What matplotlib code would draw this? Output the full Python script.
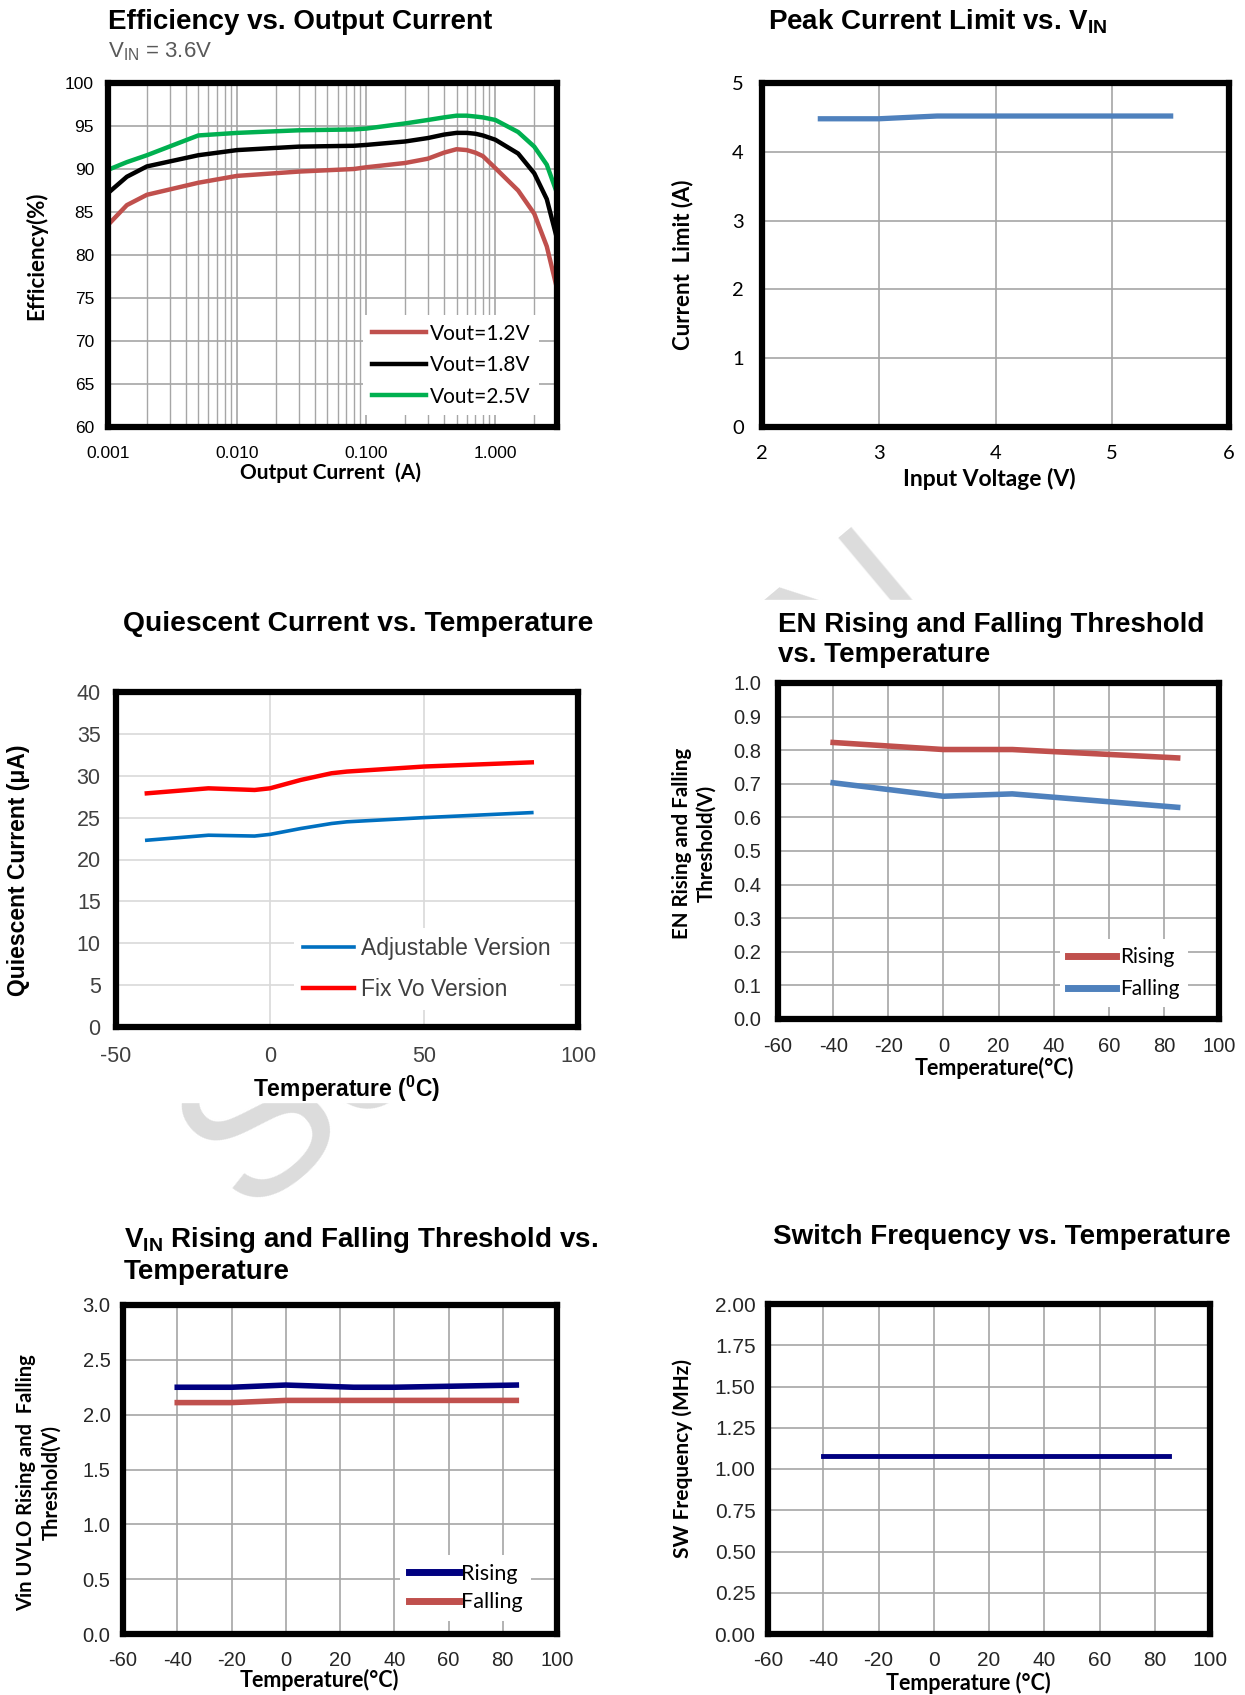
import numpy as np
import matplotlib
matplotlib.use('Agg')
import matplotlib.pyplot as plt
from matplotlib.patches import Rectangle
from matplotlib.ticker import LogLocator, NullFormatter

plt.rcParams['font.family'] = ['Liberation Sans', 'DejaVu Sans']
plt.rcParams['axes.unicode_minus'] = False
plt.rcParams['mathtext.fontset'] = 'custom'
plt.rcParams['mathtext.rm'] = 'Liberation Sans'
plt.rcParams['mathtext.bf'] = 'Liberation Sans:bold'

# ---- data ----
eff_iout = [0.001, 0.0014, 0.002, 0.005, 0.01, 0.03, 0.08, 0.1, 0.2, 0.3, 0.4, 0.5, 0.6, 0.7,
            0.8, 1.0, 1.5, 2.0, 2.5, 3.0]
eff_12 = [83.5, 85.8, 87.0, 88.4, 89.2, 89.7, 90.0, 90.2, 90.7, 91.2, 91.9, 92.3, 92.2, 91.9,
          91.5, 90.1, 87.5, 84.8, 81.0, 76.1]
eff_18 = [87.2, 89.1, 90.3, 91.6, 92.2, 92.6, 92.7, 92.8, 93.2, 93.6, 94.0, 94.2, 94.2, 94.1,
          93.9, 93.4, 91.8, 89.5, 86.5, 81.9]
eff_25 = [89.9, 90.8, 91.6, 93.9, 94.2, 94.5, 94.6, 94.7, 95.3, 95.7, 96.0, 96.2, 96.2, 96.1,
          96.0, 95.7, 94.3, 92.6, 90.5, 87.2]
eff_labels = ['Vout=1.2V', 'Vout=1.8V', 'Vout=2.5V']
eff_xticks = [0.001, 0.01, 0.1, 1.0]
eff_xticklabels = ['0.001', '0.010', '0.100', '1.000']

vin = [2.5, 3.0, 3.5, 4.0, 4.5, 5.0, 5.5]
ilim = [4.48, 4.48, 4.52, 4.52, 4.52, 4.52, 4.52]

iq_temp = [-40, -20, -5, 0, 10, 20, 25, 50, 85]
iq_adj = [22.3, 22.9, 22.8, 23.0, 23.7, 24.3, 24.5, 25.0, 25.6]
iq_fix = [27.9, 28.5, 28.3, 28.5, 29.5, 30.3, 30.5, 31.1, 31.6]

en_temp = [-40, 0, 25, 85]
en_rise = [0.823, 0.802, 0.802, 0.777]
en_fall = [0.703, 0.663, 0.670, 0.630]

uvlo_temp = [-40, -20, 0, 25, 40, 85]
uvlo_rise = [2.25, 2.25, 2.27, 2.25, 2.25, 2.27]
uvlo_fall = [2.11, 2.11, 2.13, 2.13, 2.13, 2.13]

fsw_temp = [-40, 0, 25, 85]
fsw = [1.08, 1.08, 1.08, 1.08]

# ---- layout helpers (pixel coords, origin top-left) ----
W, H = 1245, 1695
fig = plt.figure(figsize=(W / 100, H / 100), dpi=100)


def box(l, t, r, b):
    return [l / W, 1 - b / H, (r - l) / W, (b - t) / H]


def ftext(x, y, s, **kw):
    kw.setdefault('va', 'center')
    return fig.text(x / W, 1 - y / H, s, **kw)


def frame(ax, gridcolor='#a6a6a6'):
    for sp in ax.spines.values():
        sp.set_linewidth(4.5)
        sp.set_color('black')
    ax.tick_params(length=0)
    ax.grid(True, color=gridcolor, lw=1.2)
    ax.set_axisbelow(True)


def legend(ax, anchor, size, family, spacing, hl=2.3, pad=0.1):
    return ax.legend(loc='lower right', bbox_to_anchor=anchor, frameon=True, framealpha=1,
                     edgecolor='none', fancybox=False, handlelength=hl, handletextpad=pad,
                     borderaxespad=0, prop={'family': family, 'size': size},
                     labelspacing=spacing)


# watermark, only visible between the chart pictures
ftext(565, 875, 'SemiGEN', fontsize=150, color='#dcdcdc', rotation=40,
      ha='center', zorder=-2)
for l, t, r, b in [(0, 0, 640, 492), (640, 0, 1245, 492), (0, 592, 640, 1102),
                   (640, 600, 1245, 1102), (0, 1216, 640, 1695), (640, 1216, 1245, 1695)]:
    fig.patches.append(Rectangle((l / W, 1 - b / H), (r - l) / W, (b - t) / H,
                                 transform=fig.transFigure, color='white', zorder=-1))

lato = ['Lato', 'DejaVu Sans']
arial = ['Liberation Sans', 'DejaVu Sans']
TS = 20  # title size

# ---- 1: efficiency ----
ax1 = fig.add_axes(box(108, 83, 557, 427))
ax1.plot(eff_iout, eff_12, color='#c0504d', lw=3.2, label=eff_labels[0])
ax1.plot(eff_iout, eff_18, color='black', lw=3.2, label=eff_labels[1])
ax1.plot(eff_iout, eff_25, color='#00b050', lw=3.2, label=eff_labels[2])
ax1.set_xscale('log')
ax1.set_xlim(0.001, 3)
ax1.set_ylim(60, 100)
ax1.set_yticks(range(60, 101, 5))
ax1.set_xticks(eff_xticks, eff_xticklabels)
ax1.xaxis.set_minor_locator(LogLocator(subs=range(2, 10)))
ax1.xaxis.set_minor_formatter(NullFormatter())
frame(ax1)
ax1.grid(True, which='minor', axis='x', color='#a6a6a6', lw=1.0)
ax1.tick_params(which='both', length=0, labelsize=12.5)
ax1.tick_params(axis='x', pad=14)
ax1.tick_params(axis='y', pad=10)
legend(ax1, (0.96, 0.035), 15, lato, 0.55, hl=2.6, pad=0.2)
ftext(108, 22, 'Efficiency vs. Output Current', fontsize=TS, fontweight='bold')
ftext(108, 52, r'V$_{\mathrm{IN}}$ = 3.6V', fontsize=16, color='#595959')
ftext(36, 256, 'Efficiency(%)', fontsize=16, fontweight='bold', rotation=90,
      ha='center', family=lato)
ftext(330, 473, 'Output Current  (A)', fontsize=15, fontweight='bold', ha='center', family=lato)

# ---- 2: peak current limit ----
ax2 = fig.add_axes(box(762, 83, 1229, 427))
ax2.plot(vin, ilim, color='#4f81bd', lw=3.8)
ax2.set_xlim(2, 6)
ax2.set_ylim(0, 5)
ax2.set_xticks(range(2, 7))
ax2.set_yticks(range(0, 6))
frame(ax2)
ax2.tick_params(labelsize=14.5, pad=13)
for lab in ax2.get_xticklabels() + ax2.get_yticklabels():
    lab.set_family(lato)
ftext(768, 22, r'Peak Current Limit vs. V$_\mathbf{IN}$', fontsize=TS, fontweight='bold')
ftext(683, 265, 'Current  Limit (A)', fontsize=16, fontweight='bold', rotation=90,
      ha='center', family=lato)
ftext(989, 479, 'Input Voltage (V)', fontsize=16.5, fontweight='bold', ha='center', family=lato)

# ---- 3: quiescent current ----
ax3 = fig.add_axes(box(116, 692, 578, 1027))
ax3.plot(iq_temp, iq_adj, color='#0070c0', lw=2.6, label='Adjustable Version')
ax3.plot(iq_temp, iq_fix, color='#ff0000', lw=3.2, label='Fix Vo Version')
ax3.set_xlim(-50, 100)
ax3.set_ylim(0, 40)
ax3.set_xticks([-50, 0, 50, 100])
ax3.set_yticks(range(0, 41, 5))
frame(ax3, gridcolor='#d9d9d9')
ax3.tick_params(labelsize=15.5, labelcolor='#404040')
ax3.tick_params(axis='x', pad=14)
ax3.tick_params(axis='y', pad=11)
leg3 = legend(ax3, (0.96, 0.05), 16.5, arial, 0.8, hl=2.2, pad=0.3)
for t in leg3.get_texts():
    t.set_color('#404040')
ftext(358, 624, 'Quiescent Current vs. Temperature', fontsize=20.3, fontweight='bold', ha='center')
ftext(19, 870, 'Quiescent Current (μA)', fontsize=16.5, fontweight='bold', rotation=90, ha='center')
ftext(347, 1089, r'Temperature ($^\mathbf{0}$C)', fontsize=16.5, fontweight='bold', ha='center')

# ---- 4: EN threshold ----
ax4 = fig.add_axes(box(778, 683, 1219, 1019))
ax4.plot(en_temp, en_rise, color='#c0504d', lw=4, label='Rising')
ax4.plot(en_temp, en_fall, color='#4f81bd', lw=4, label='Falling')
ax4.set_xlim(-60, 100)
ax4.set_ylim(0, 1)
ax4.set_xticks(range(-60, 101, 20))
ax4.set_yticks(np.arange(0, 1.01, 0.1))
ax4.set_yticklabels([f'{v:.1f}' for v in np.arange(0, 1.01, 0.1)])
frame(ax4)
ax4.tick_params(labelsize=14.5, labelcolor='#262626')
ax4.tick_params(axis='x', pad=13)
ax4.tick_params(axis='y', pad=12)
leg4 = legend(ax4, (0.93, 0.035), 15, lato, 0.55, hl=2.3, pad=0.2)
for ln in leg4.get_lines():
    ln.set_linewidth(5)
ftext(778, 640, 'EN Rising and Falling Threshold\nvs. Temperature', fontsize=TS,
      fontweight='bold', linespacing=1.18)
ftext(694, 843, 'EN Rising and Falling\nThreshold(V)', fontsize=14.8, fontweight='bold',
      rotation=90, ha='center', family=lato, linespacing=1.25)
ftext(994, 1068, 'Temperature(°C)', fontsize=15.5, fontweight='bold', ha='center', family=lato)

# ---- 5: VIN UVLO threshold ----
ax5 = fig.add_axes(box(123, 1305, 557, 1634))
ax5.plot(uvlo_temp, uvlo_rise, color='#000080', lw=4, label='Rising')
ax5.plot(uvlo_temp, uvlo_fall, color='#c0504d', lw=4, label='Falling')
ax5.set_xlim(-60, 100)
ax5.set_ylim(0, 3)
ax5.set_xticks(range(-60, 101, 20))
ax5.set_yticks(np.arange(0, 3.01, 0.5))
ax5.set_yticklabels([f'{v:.1f}' for v in np.arange(0, 3.01, 0.5)])
frame(ax5)
ax5.tick_params(labelsize=14.5, labelcolor='#262626')
ax5.tick_params(axis='x', pad=12)
ax5.tick_params(axis='y', pad=9)
leg5 = legend(ax5, (0.94, 0.04), 15.5, lato, 0.4, hl=2.3, pad=0.1)
for ln in leg5.get_lines():
    ln.set_linewidth(5)
ftext(124, 1255, 'V$_\\mathbf{IN}$ Rising and Falling Threshold vs.\nTemperature', fontsize=TS,
      fontweight='bold', linespacing=1.18)
ftext(39, 1483, 'Vin UVLO Rising and  Falling\nThreshold(V)', fontsize=14.5, fontweight='bold',
      rotation=90, ha='center', family=lato, linespacing=1.3)
ftext(319, 1680, 'Temperature(°C)', fontsize=15.5, fontweight='bold', ha='center', family=lato)

# ---- 6: switching frequency ----
ax6 = fig.add_axes(box(768, 1304, 1210, 1634))
ax6.plot(fsw_temp, fsw, color='#000080', lw=3.5)
ax6.set_xlim(-60, 100)
ax6.set_ylim(0, 2)
ax6.set_xticks(range(-60, 101, 20))
ax6.set_yticks(np.arange(0, 2.01, 0.25))
ax6.set_yticklabels([f'{v:.2f}' for v in np.arange(0, 2.01, 0.25)])
frame(ax6)
ax6.tick_params(labelsize=15, labelcolor='#262626')
ax6.tick_params(axis='x', pad=12)
ax6.tick_params(axis='y', pad=9)
ftext(1002, 1237, 'Switch Frequency vs. Temperature', fontsize=TS, fontweight='bold', ha='center')
ftext(683, 1459, 'SW Frequency (MHz)', fontsize=15, fontweight='bold', rotation=90,
      ha='center', family=lato)
ftext(968, 1683, 'Temperature (°C)', fontsize=15.5, fontweight='bold', ha='center', family=lato)

fig.savefig('out.png', dpi=100)
